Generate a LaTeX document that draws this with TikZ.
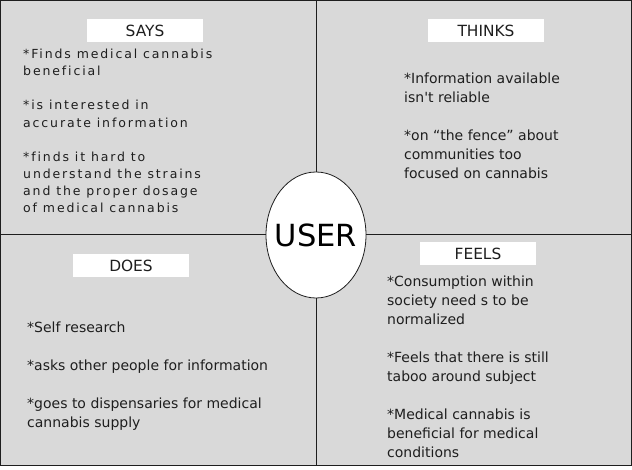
\documentclass[tikz,border=0pt]{standalone}
\usepackage{fontspec}
\usetikzlibrary{shapes.geometric}
\setmainfont{DejaVu Sans}
\newfontfamily\plainfam{DejaVu Sans}
\newfontfamily\spaced[LetterSpace=15,Ligatures=NoCommon]{DejaVu Sans}
\definecolor{quad}{HTML}{D9D9D9}
\definecolor{ink}{HTML}{1E1E1E}
\begin{document}
\begin{tikzpicture}[x=1pt,y=-1pt,
  tag/.style={fill=white,minimum width=116pt,minimum height=23pt,inner sep=0pt,font=\fontsize{15.4}{16}\selectfont,text=ink},
  body/.style={anchor=north west,align=left,inner sep=0pt,text=ink,font=\plainfam\fontsize{14}{19}\selectfont},
  bodys/.style={anchor=north west,align=left,inner sep=0pt,text=ink,font=\spaced\fontsize{12.5}{17.1}\selectfont}]
\useasboundingbox (0,0) rectangle (632,470);
\fill[white] (0,0) rectangle (632,470);
\fill[quad] (0.5,0.5) rectangle (631,465.5);
\coordinate (top) at (316.5,0.5);
\coordinate (bot) at (316.5,465.5);
\coordinate (lft) at (0.5,234.5);
\coordinate (rgt) at (631,234.5);
\draw[line width=0.8pt,ink] (0.5,0.5) rectangle (631,465.5);
\draw[line width=0.8pt,ink] (top) -- (bot);
\draw[line width=0.8pt,ink] (lft) -- (rgt);
\node[draw=ink,line width=0.8pt,fill=white,ellipse,minimum width=100pt,minimum height=126pt,inner sep=0pt,font=\fontsize{30.5}{36}\selectfont,text=black] (user) at (316,235) {\makebox[0pt]{USER}};
\node[tag] (says) at (145,30.5) {SAYS};
\node[tag] (thinks) at (486,30.5) {THINKS};
\node[tag] (does) at (131,265.5) {DOES};
\node[tag] (feels) at (478,253.5) {FEELS};
\node[bodys] (saystext) at (23,49) {*Finds medical cannabis\\beneficial\\[17.1pt]*is interested in\\accurate information\\[17.1pt]*finds it hard to\\understand the strains\\and the proper dosage\\of medical cannabis};
\node[body] (thinkstext) at (404,72.5) {*Information available\\isn't reliable\\[19pt]*on “the fence” about\\communities too\\focused on cannabis};
\node[body] (doestext) at (27,321.5) {*Self research\\[19pt]*asks other people for information\\[19pt]*goes to dispensaries for medical\\cannabis supply};
\node[body] (feelstext) at (387,275.5) {*Consumption within\\society need s to be\\normalized\\[19pt]*Feels that there is still\\taboo around subject\\[19pt]*Medical cannabis is\\beneficial for medical\\conditions};
\end{tikzpicture}
\end{document}
